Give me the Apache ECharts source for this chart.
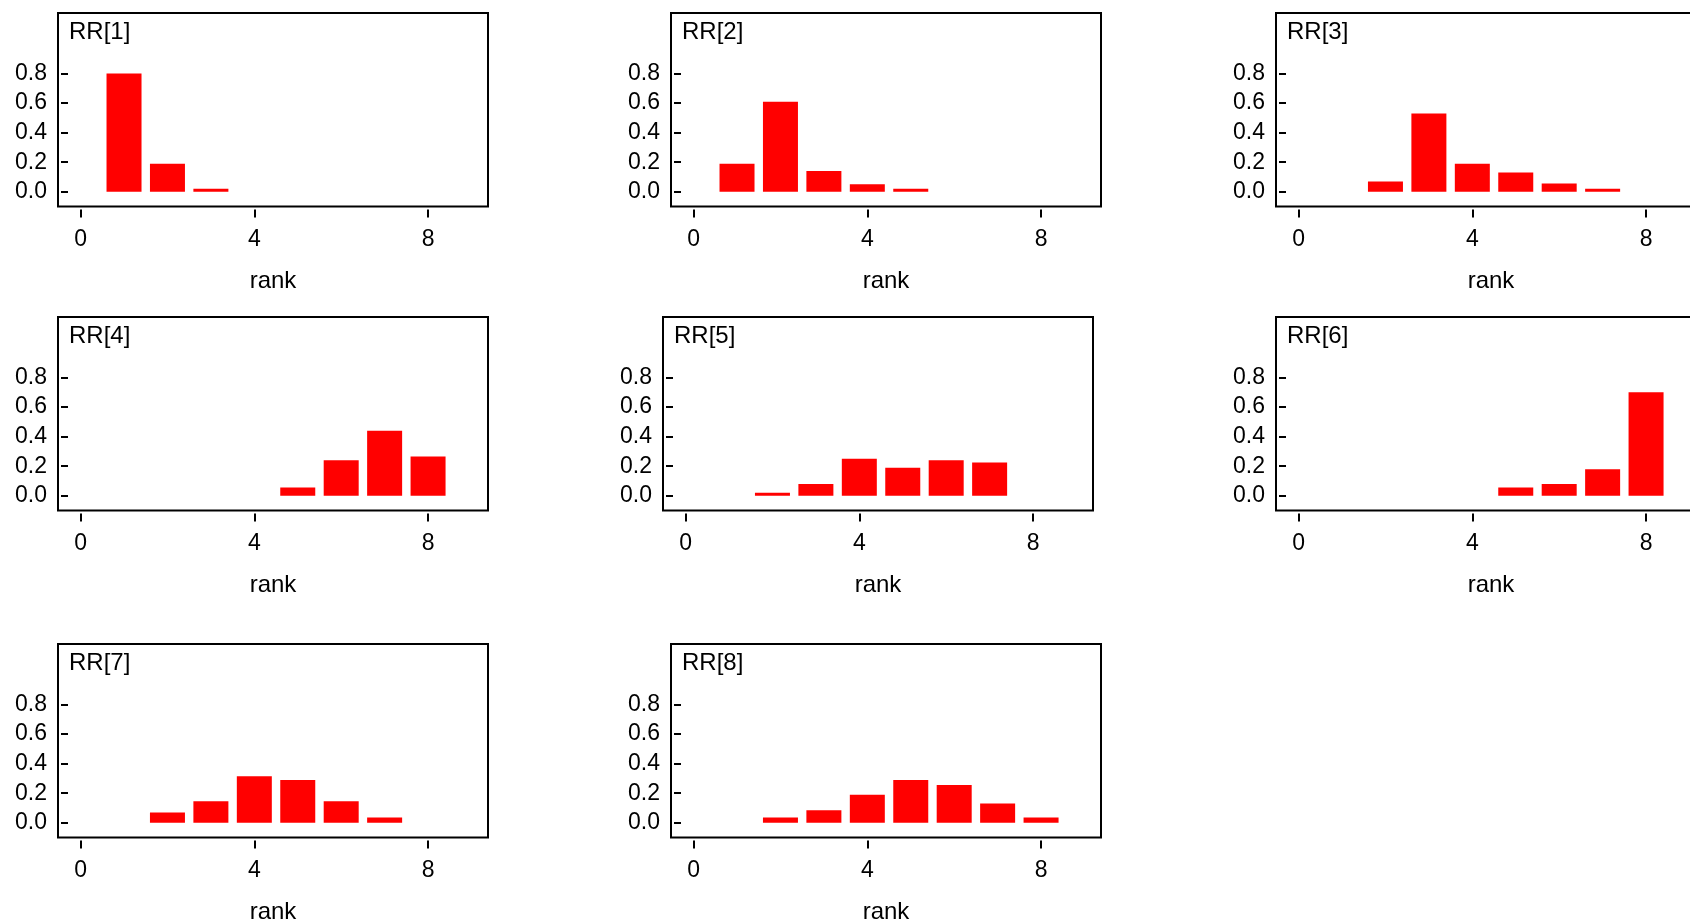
<!DOCTYPE html>
<html>
<head>
<meta charset="utf-8">
<script src="https://cdn.jsdelivr.net/npm/echarts@6/dist/echarts.min.js"></script>
<style>
html,body{margin:0;padding:0;background:#fff;}
#c{width:1690px;height:923px;}
</style>
</head>
<body>
<div id="c"></div>
<script>
// ---- data ----
const ranks = [1, 2, 3, 4, 5, 6, 7, 8];
const panelTitles = ['RR[1]', 'RR[2]', 'RR[3]', 'RR[4]', 'RR[5]', 'RR[6]', 'RR[7]', 'RR[8]'];
const rr1 = [0.80, 0.19, 0.02, 0, 0, 0, 0, 0];
const rr2 = [0.19, 0.61, 0.14, 0.05, 0.02, 0, 0, 0];
const rr3 = [0, 0.07, 0.53, 0.19, 0.13, 0.055, 0.02, 0];
const rr4 = [0, 0, 0, 0, 0.055, 0.24, 0.44, 0.265];
const rr5 = [0, 0.02, 0.08, 0.25, 0.19, 0.24, 0.225, 0];
const rr6 = [0, 0, 0, 0, 0.055, 0.08, 0.18, 0.70];
const rr7 = [0, 0.07, 0.145, 0.315, 0.29, 0.145, 0.035, 0];
const rr8 = [0, 0.035, 0.085, 0.19, 0.29, 0.255, 0.13, 0.035];
const xTicks = [0, 4, 8];
const yTicks = [0, 0.2, 0.4, 0.6, 0.8];
const xName = 'rank';

const seriesValues = [rr1, rr2, rr3, rr4, rr5, rr6, rr7, rr8];

// ---- layout ----
const boxes = [
  {left: 58,   top: 13},
  {left: 671,  top: 13},
  {left: 1276, top: 13},
  {left: 58,   top: 317},
  {left: 663,  top: 317},
  {left: 1276, top: 317},
  {left: 58,   top: 644},
  {left: 671,  top: 644}
];
const BOXW = 430, BOXH = 193.5;
const FONT = '"Liberation Sans", Arial, sans-serif';

const grids = [], xAxes = [], yAxes = [], series = [], titles = [];
boxes.forEach((b, i) => {
  grids.push({
    left: b.left, top: b.top, width: BOXW, height: BOXH,
    show: true, borderColor: '#000', borderWidth: 2, backgroundColor: 'transparent',
    containLabel: false, outerBoundsMode: 'none'
  });
  xAxes.push({
    gridIndex: i, type: 'value', min: -0.52, max: 9.38,
    position: 'bottom', offset: 3,
    splitLine: {show: false},
    axisLine: {show: false, onZero: false},
    axisTick: {show: true, inside: false, length: 8, lineStyle: {color: '#000', width: 2}, customValues: xTicks},
    axisLabel: {show: true, margin: 19, color: '#000', fontSize: 23, fontFamily: FONT, customValues: xTicks, showMinLabel: true, showMaxLabel: true},
    name: xName, nameLocation: 'middle', nameGap: 60,
    nameTextStyle: {color: '#000', fontSize: 24, fontFamily: FONT},
    nameMoveOverlap: false
  });
  yAxes.push({
    gridIndex: i, type: 'value', min: -0.1, max: 1.21,
    position: 'left', offset: -3,
    splitLine: {show: false},
    axisLine: {show: false, onZero: false},
    axisTick: {show: true, inside: true, length: 7, lineStyle: {color: '#000', width: 2}, customValues: yTicks},
    axisLabel: {show: true, inside: false, margin: 14, color: '#000', fontSize: 23, fontFamily: FONT, customValues: yTicks,
      formatter: v => Number(v).toFixed(1)}
  });
  const vals = seriesValues[i];
  series.push({
    type: 'bar', xAxisIndex: i, yAxisIndex: i,
    barWidth: 35,
    itemStyle: {color: '#ff0000'},
    silent: true, animation: false,
    data: ranks.map((r, k) => [r, vals[k]]).filter(d => d[1] > 0)
  });
  titles.push({
    text: panelTitles[i], left: b.left + 11, top: b.top + 7, padding: 0,
    textStyle: {color: '#000', fontSize: 24, fontWeight: 'normal', fontFamily: FONT}
  });
});

const chart = echarts.init(document.getElementById('c'), null, {renderer: 'canvas'});
chart.setOption({
  animation: false,
  backgroundColor: '#fff',
  title: titles,
  grid: grids,
  xAxis: xAxes,
  yAxis: yAxes,
  series: series
});
</script>
</body>
</html>
